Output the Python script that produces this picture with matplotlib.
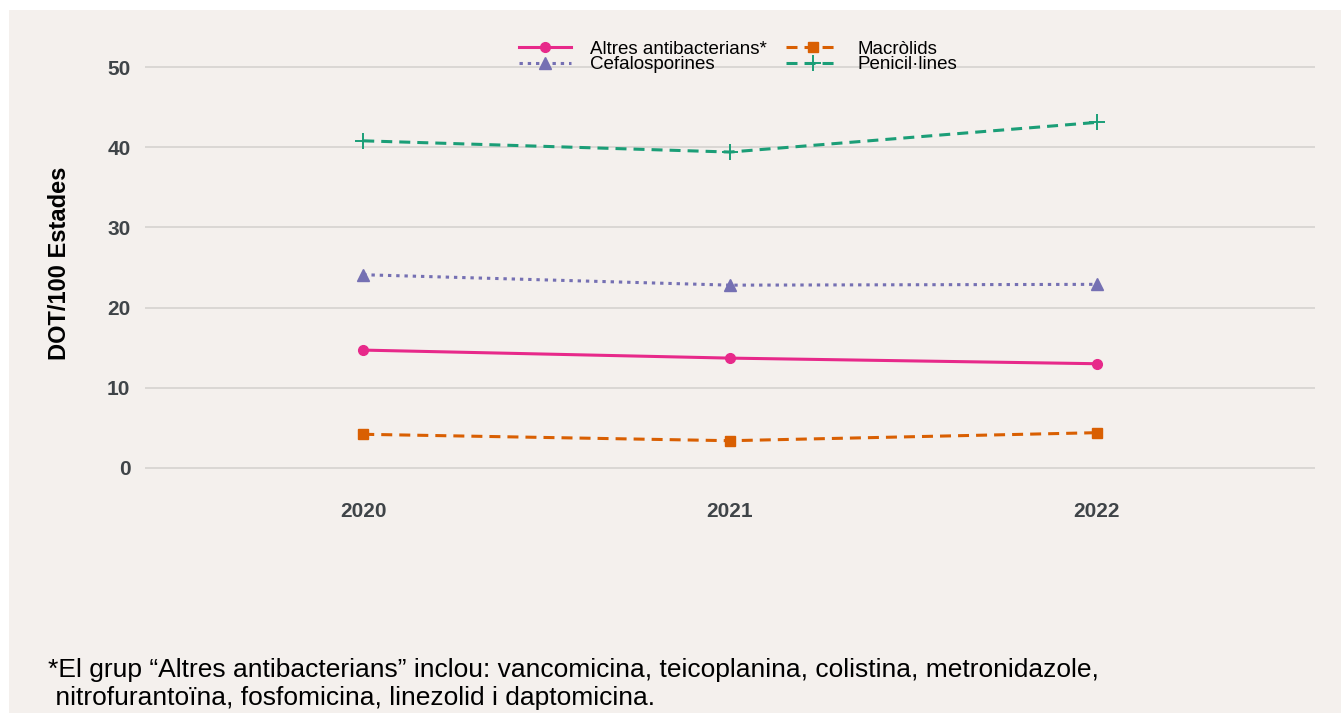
import matplotlib
matplotlib.use("Agg")
import matplotlib.pyplot as plt
from matplotlib.patches import Rectangle

plt.rcParams['font.family'] = ['Liberation Sans', 'DejaVu Sans']

years = [2020, 2021, 2022]
altres = [14.7, 13.7, 13.0]
macrolids = [4.2, 3.4, 4.4]
cefalosporines = [24.1, 22.8, 22.9]
penicilines = [40.8, 39.4, 43.1]
yticks = [0, 10, 20, 30, 40, 50]
footnote = ("*El grup \u201cAltres antibacterians\u201d inclou: vancomicina, teicoplanina, colistina, metronidazole,\n"
            " nitrofurantoïna, fosfomicina, linezolid i daptomicina.")

BG = '#F4F0ED'
TICK = '#3F4448'
fig = plt.figure(figsize=(13.41, 7.13), dpi=100, facecolor='white')
fig.patches.append(Rectangle((9/1341, 0), 1, 1 - 10/713, transform=fig.transFigure,
                             facecolor=BG, edgecolor='none', zorder=-10))
ax = fig.add_axes([145/1341, 1 - 484/713, 1170/1341, 441/713])
ax.set_facecolor('none')

lw = 2.2
ax.plot(years, altres, color='#E7298A', lw=lw, marker='o', ms=7, label='Altres antibacterians*')
ax.plot(years, cefalosporines, color='#7570B3', lw=lw, ls=(0, (1.1, 1.6)), marker='^', ms=8, label='Cefalosporines')
ax.plot(years, macrolids, color='#D95F02', lw=lw, ls=(0, (3.6, 2.3)), marker='s', ms=7.5, label='Macròlids')
ax.plot(years, penicilines, color='#1B9E77', lw=lw, ls=(0, (3.6, 2.3)), marker='+', ms=12, mew=1.4, label='Penicil·lines')

ax.set_xlim(2019.405, 2022.595)
ax.set_ylim(-2, 53)
ax.set_xticks(years)
ax.set_xticklabels([str(y) for y in years], fontsize=15, fontweight='bold', color=TICK)
ax.set_yticks(yticks)
ax.set_yticklabels([str(v) for v in yticks], fontsize=15, fontweight='bold', color=TICK)
ax.tick_params(axis='both', length=0)
ax.tick_params(axis='x', pad=13)
ax.tick_params(axis='y', pad=10.5)
ax.grid(axis='y', color='#D3D0CD', lw=1.1)
ax.set_axisbelow(True)
for s in ax.spines.values():
    s.set_visible(False)
ax.set_ylabel('DOT/100 Estades', fontsize=17, fontweight='bold', color='black', labelpad=26)

leg = fig.legend(loc='upper center', bbox_to_anchor=(738/1341, 1 - 31/713), ncol=2,
                 frameon=False, fontsize=13.5, handlelength=2.8, labelspacing=-0.08,
                 columnspacing=1.05, handletextpad=1.0, borderpad=0)

fig.text(48/1341, 1 - 684/713, footnote, fontsize=19, color='black', va='center',
         linespacing=1.22)

fig.savefig('out.png', dpi=100, facecolor='white')
